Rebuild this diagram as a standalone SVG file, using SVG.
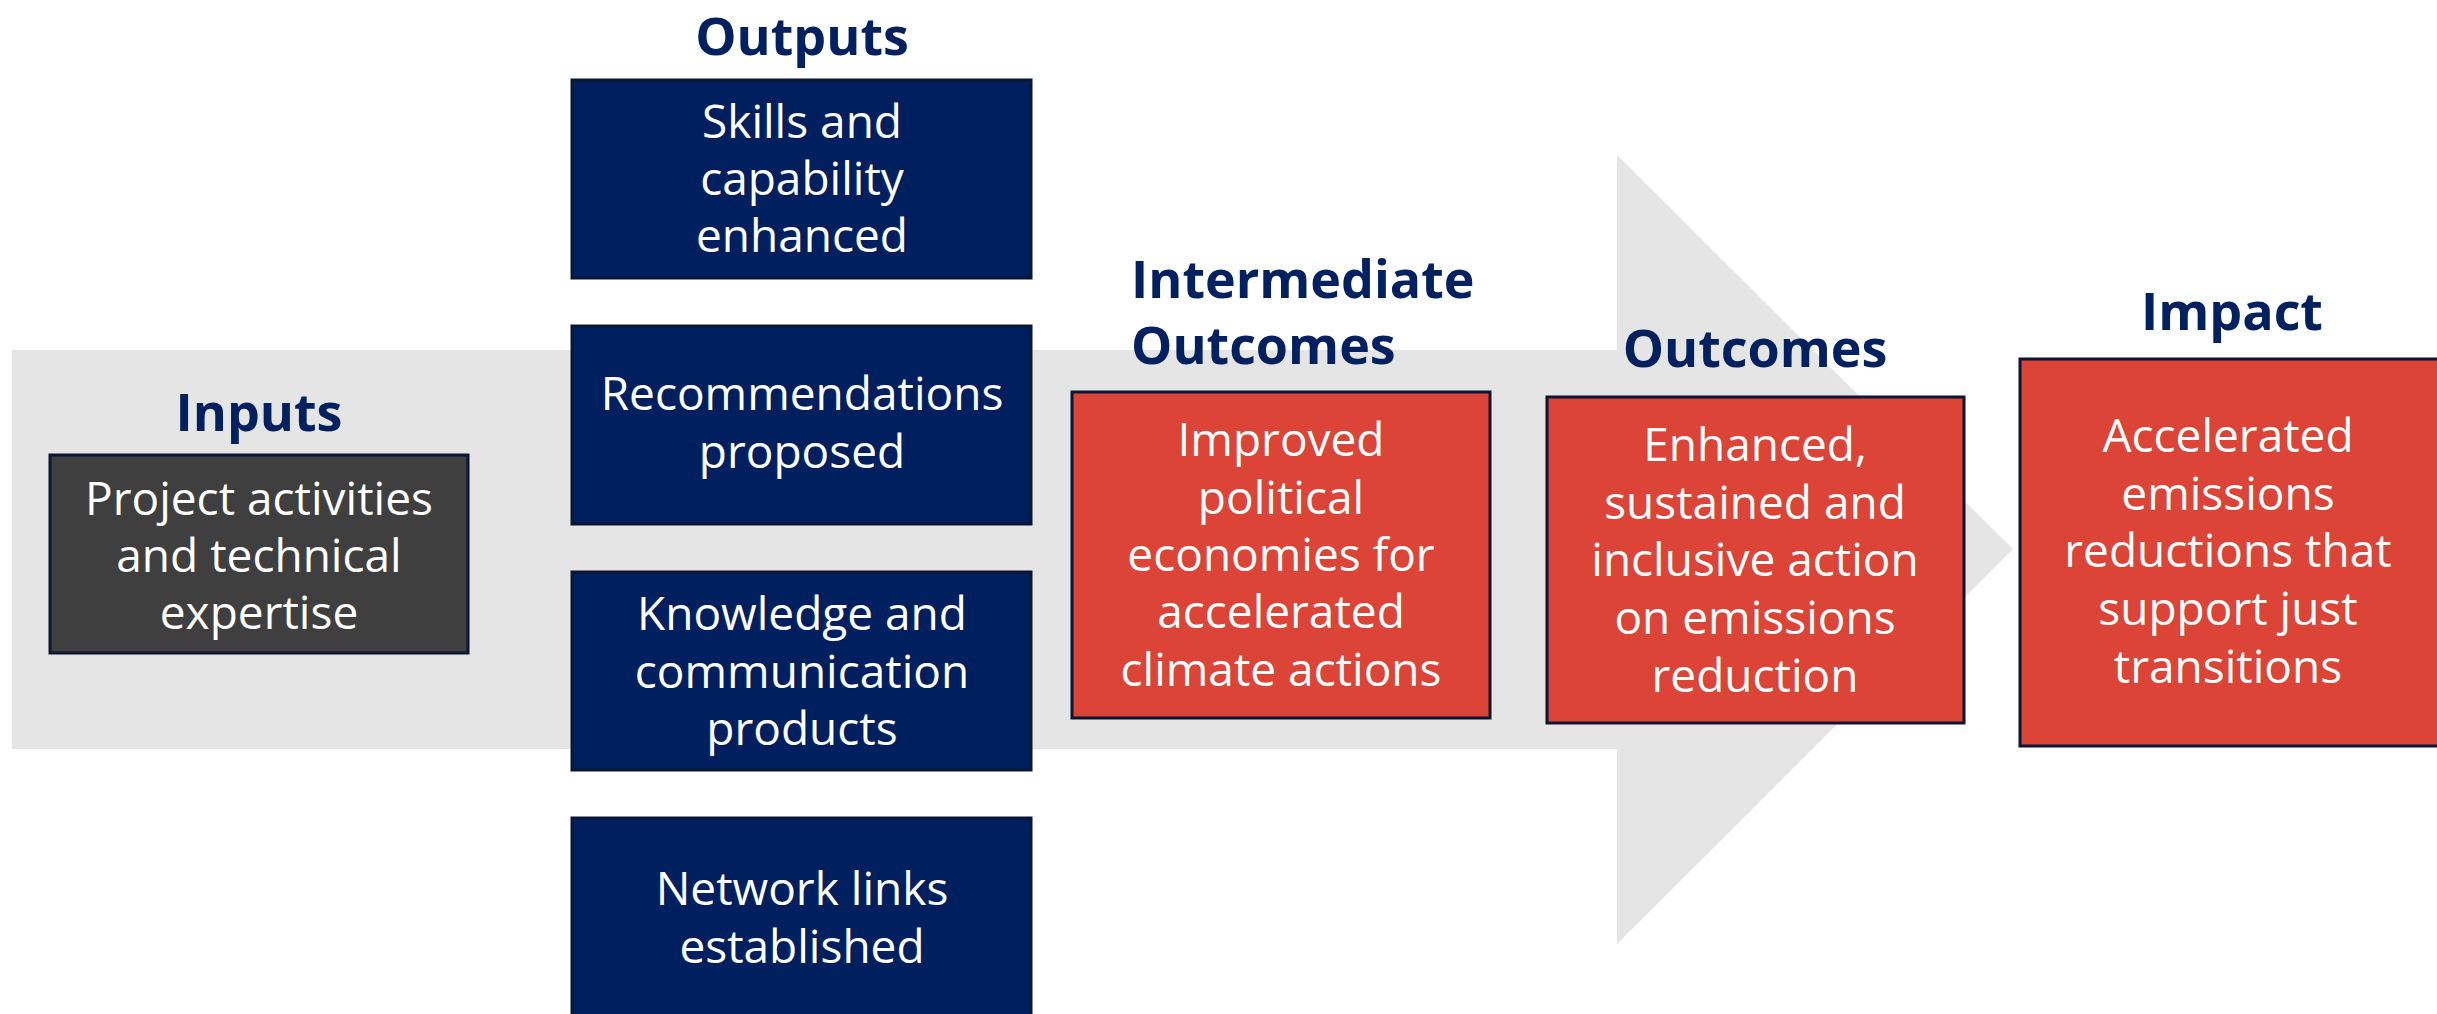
<svg xmlns="http://www.w3.org/2000/svg" width="2437" height="1014" viewBox="0 0 2437 1014">
  <defs>
    <style>
      .title { font-family: "Open Sans", "Liberation Sans", sans-serif; font-weight: 700; font-size: 52px; fill: #002060; }
      .body { font-family: "Open Sans", "Liberation Sans", sans-serif; font-size: 46px; fill: #ffffff; text-anchor: middle; }
      .navy { fill: #001F5F; stroke: #0B1633; stroke-width: 3; }
      .red { fill: #DB4437; stroke: #0B1633; stroke-width: 3; }
      .grey { fill: #3F3F3F; stroke: #0B1633; stroke-width: 3; }
    </style>
  </defs>
  <rect width="2437" height="1014" fill="#ffffff"/>
  <g id="background-arrow">
    <polygon points="12,350 1617,350 1617,155 2013,549 1617,944 1617,749 12,749" fill="#E5E5E5"/>
  </g>
  <g id="connectors"></g>

  <g id="inputs">
    <text class="title" x="259" y="431" text-anchor="middle">Inputs</text>
    <rect class="grey" x="50" y="455" width="418" height="198"/>
    <text class="body" x="259" y="515">Project activities</text>
    <text class="body" x="259" y="572">and technical</text>
    <text class="body" x="259" y="629">expertise</text>
  </g>

  <g id="outputs-title">
    <text class="title" x="802" y="55" font-size="50" text-anchor="middle">Outputs</text>
  </g>
  <g id="output-skills">
    <rect class="navy" x="572" y="80" width="459" height="198"/>
    <text class="body" x="802" y="138">Skills and</text>
    <text class="body" x="802" y="195">capability</text>
    <text class="body" x="802" y="252">enhanced</text>
  </g>
  <g id="output-recommendations">
    <rect class="navy" x="572" y="326" width="459" height="198"/>
    <text class="body" x="802" y="410">Recommendations</text>
    <text class="body" x="802" y="468">proposed</text>
  </g>
  <g id="output-knowledge">
    <rect class="navy" x="572" y="572" width="459" height="198"/>
    <text class="body" x="802" y="630">Knowledge and</text>
    <text class="body" x="802" y="688">communication</text>
    <text class="body" x="802" y="745">products</text>
  </g>
  <g id="output-network">
    <rect class="navy" x="572" y="818" width="459" height="210"/>
    <text class="body" x="802" y="905">Network links</text>
    <text class="body" x="802" y="963">established</text>
  </g>

  <g id="intermediate-outcomes">
    <text class="title" x="1131" y="298">Intermediate</text>
    <text class="title" x="1131" y="364">Outcomes</text>
    <rect class="red" x="1072" y="392" width="418" height="326"/>
    <text class="body" x="1281" y="456">Improved</text>
    <text class="body" x="1281" y="514">political</text>
    <text class="body" x="1281" y="571">economies for</text>
    <text class="body" x="1281" y="628">accelerated</text>
    <text class="body" x="1281" y="686">climate actions</text>
  </g>

  <g id="outcomes">
    <text class="title" x="1755" y="367" text-anchor="middle">Outcomes</text>
    <rect class="red" x="1547" y="397" width="417" height="326"/>
    <text class="body" x="1755" y="461">Enhanced,</text>
    <text class="body" x="1755" y="519">sustained and</text>
    <text class="body" x="1755" y="576">inclusive action</text>
    <text class="body" x="1755" y="634">on emissions</text>
    <text class="body" x="1755" y="692">reduction</text>
  </g>

  <g id="impact">
    <text class="title" x="2232" y="330" text-anchor="middle">Impact</text>
    <rect class="red" x="2020" y="359" width="430" height="387"/>
    <text class="body" x="2228" y="452">Accelerated</text>
    <text class="body" x="2228" y="510">emissions</text>
    <text class="body" x="2228" y="567">reductions that</text>
    <text class="body" x="2228" y="625">support just</text>
    <text class="body" x="2228" y="683">transitions</text>
  </g>
</svg>
